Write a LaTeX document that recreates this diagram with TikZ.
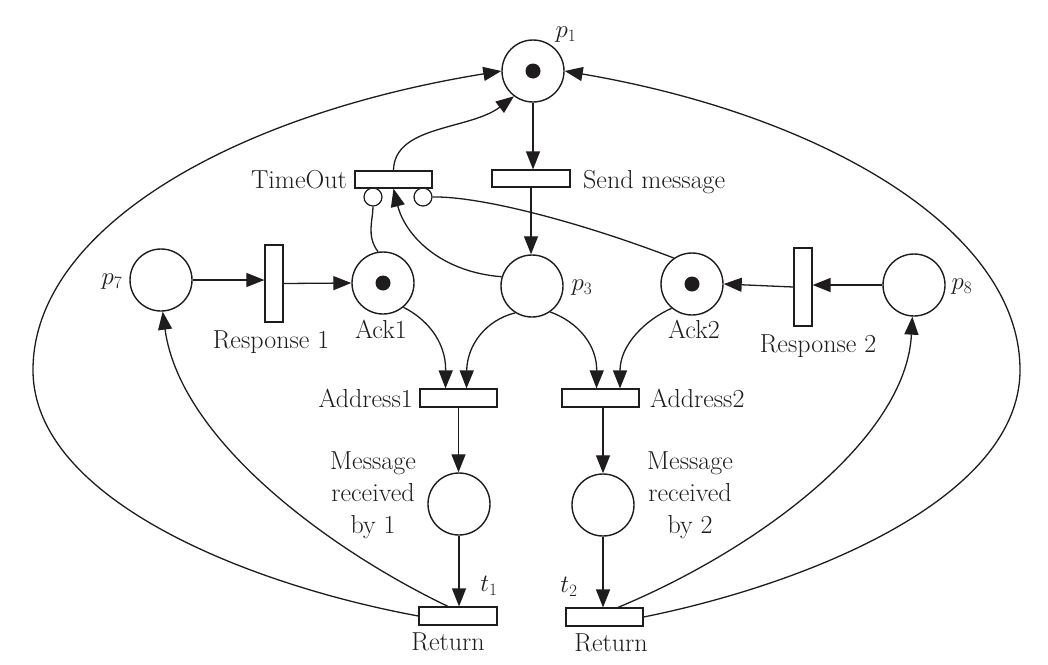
\documentclass[tikz,border=0pt]{standalone}
\usetikzlibrary{arrows.meta}
\definecolor{ink}{RGB}{30,28,29}
\begin{document}
\begin{tikzpicture}[x=1pt,y=-1pt,
  place/.style={circle,draw=ink,line width=1.4pt,minimum size=62pt,inner sep=0pt},
  trh/.style={rectangle,draw=ink,line width=1.2pt,minimum width=77pt,minimum height=17pt,inner sep=0pt},
  trv/.style={rectangle,draw=ink,line width=1.2pt,minimum width=18pt,minimum height=77pt,inner sep=0pt},
  inh/.style={circle,draw=ink,line width=1.2pt,minimum size=18pt,inner sep=0pt},
  arc/.style={draw=ink,line width=1.3pt,-{Triangle[length=18pt,width=14pt]}},
  plain/.style={draw=ink,line width=1.3pt},
  lbl/.style={inner sep=0pt,text=ink,font=\fontsize{26}{32}\selectfont},
  tok/.style={fill=ink}]
\path[use as bounding box] (0,0) rectangle (1048,664);
% places
\node[place] (p1) at (533,71) {};
\node[place] (ack1) at (383,283) {};
\node[place] (p3) at (532,286) {};
\node[place] (ack2) at (692,284) {};
\node[place] (p7) at (161,280) {};
\node[place] (p8) at (914,285) {};
\node[place] (m1) at (459,504) {};
\node[place] (m2) at (603,505) {};
% tokens
\fill[tok] (p1.center) circle[radius=7.5pt];
\fill[tok] (ack1.center) circle[radius=7.5pt];
\fill[tok] (ack2.center) circle[radius=7.5pt];
% transitions
\node[trh] (to) at (393.5,179.5) {};
\node[trh,minimum width=78pt] (sm) at (531,178.5) {};
\node[trv] (r1) at (274,283.5) {};
\node[trv,minimum height=78pt] (r2) at (803,287) {};
\node[trh,minimum height=18pt] (a1) at (458.5,398) {};
\node[trh,minimum height=18pt] (a2) at (600.5,398) {};
\node[trh,minimum width=78pt,minimum height=18pt] (ret1) at (458,616) {};
\node[trh,minimum height=18pt] (ret2) at (604.5,617) {};
% inhibitor circles
\node[inh] (inhL) at (373,197) {};
\node[inh] (inhR) at (423,197) {};
% labels
\node[lbl] (lp1) at (566,35) {$p_1$};
\node[lbl] (lp3) at (582,288) {$p_3$};
\node[lbl] (lp7) at (112,282) {$p_7$};
\node[lbl] (lp8) at (962,287) {$p_8$};
\node[lbl] (lt1) at (489,586) {$t_1$};
\node[lbl] (lt2) at (569,587) {$t_2$};
\node[lbl,anchor=base east] (tto) at (347,188) {TimeOut};
\node[lbl,anchor=base west] (tsm) at (583,188) {Send message};
\node[lbl,anchor=base] (tr1) at (271,348) {Response 1};
\node[lbl,anchor=base] (tack1) at (381,338) {Ack1};
\node[lbl,anchor=base] (tack2) at (694,338) {Ack2};
\node[lbl,anchor=base] (tr2) at (818,352) {Response 2};
\node[lbl,anchor=base east] (ta1) at (413,407) {Address1};
\node[lbl,anchor=base west] (ta2) at (650,407) {Address2};
\node[lbl,align=center] (tm1) at (373,495) {Message\\received\\by 1};
\node[lbl,align=center] (tm2) at (690,495) {Message\\received\\by 2};
\node[lbl,anchor=base] (tret1) at (448,650) {Return};
\node[lbl,anchor=base] (tret2) at (611,651) {Return};
% arcs
\draw[arc] (p1.south) -- (p1.south |- sm.north);
\draw[arc] (sm.south) -- (sm.south |- p3.north);
\draw[arc] (to.north) .. controls (394,125) and (470,130) .. (p1.-127);
\draw[plain] (ack1.99) .. controls (366,236) and (373,220) .. (inhL.south);
\draw[arc] (p3.163) .. controls (440,272) and (405,235) .. (to.south);
\draw[plain] (ack2.125) .. controls (580,222) and (480,196) .. (inhR.east);
\draw[arc] (p7.east) -- (p7.east -| r1.west);
\draw[arc] (r1.east) -- (ack1.west);
\draw[arc] (p8.west) -- (p8.west -| r2.east);
\draw[arc] (r2.west) -- (ack2.east);
\draw[arc] (ack1.-50) .. controls (425,318) and (446,340) .. ([xshift=-13pt]a1.north);
\draw[arc] (p3.-122) .. controls (486,320) and (467,345) .. ([xshift=8pt]a1.north);
\draw[arc] (p3.-55) .. controls (578,322) and (597,345) .. ([xshift=-4pt]a2.north);
\draw[arc] (ack2.-130) .. controls (645,320) and (620,345) .. ([xshift=19.5pt]a2.north);
\draw[arc] (a1.south) -- (a1.south |- m1.north);
\draw[arc] (m1.south) -- (m1.south |- ret1.north);
\draw[arc] (m2.north |- a2.south) -- (m2.north);
\draw[arc] (m2.south) -- (m2.south |- ret2.north);
\draw[arc] ([xshift=-10pt]ret1.north) .. controls (330,550) and (180,440) .. (p7.-87);
\draw[arc] ([xshift=13.5pt]ret2.north) .. controls (756,550) and (906,440) .. (p8.-93);
\draw[arc] (ret1.west) .. controls (250,585) and (33,500) .. (33,370)
   .. controls (33,230) and (230,115) .. (p1.west);
\draw[arc] (ret2.east) .. controls (803,585) and (1020,500) .. (1020,370)
   .. controls (1020,230) and (823,115) .. (p1.east);
\end{tikzpicture}
\end{document}
